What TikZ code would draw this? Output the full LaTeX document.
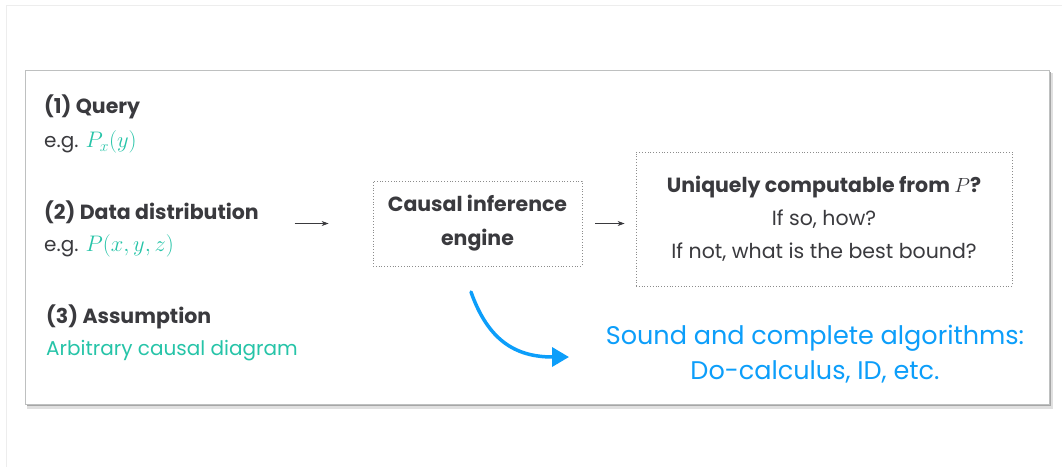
\RequirePackage{fix-cm}
\documentclass[tikz,border=0pt]{standalone}
\usepackage{fontspec}
\setmainfont{Poppins}
\newfontfamily\handfont{Poppins}
\usetikzlibrary{arrows.meta}
\definecolor{ink}{RGB}{58,58,62}
\definecolor{mint}{RGB}{38,196,168}
\definecolor{sky}{RGB}{12,158,250}
\definecolor{cardline}{RGB}{190,192,192}
\newcommand{\mathex}[1]{\textcolor{mint}{\fontsize{22.5}{24}\selectfont$#1$}}
\begin{document}
\begin{tikzpicture}[x=1pt,y=-1pt,
  every node/.style={inner sep=0pt, text=ink},
  head/.style={font=\fontsize{20.5}{24}\selectfont\bfseries, anchor=west},
  body/.style={font=\fontsize{20}{24}\selectfont, anchor=west},
  dotbox/.style={draw=black!45, dotted, line width=0.8pt, align=center},
  arr/.style={draw=ink, line width=0.7pt, -{Stealth[length=7pt,width=5pt]}},
  sketch/.style={draw=sky, line width=3.5pt, line cap=round, -{Triangle[length=17pt,width=19pt]}},
  hand/.style={font=\fontsize{25.5}{35}\selectfont\handfont, text=sky, align=center}]
\useasboundingbox (0,0) rectangle (1062,467);
% faint page edge
\draw[black!7, line width=0.8pt] (6,467) -- (6,5) -- (1062,5);
% card with drop shadow
\fill[black!12] (27,73) rectangle (1053,409);
\fill[black!35] (27,72) rectangle (1051,406);
\draw[cardline, line width=0.8pt, fill=white] (25,70) rectangle (1049,404);

% inputs
\node[head] (q) at (44,107) {(1) Query};
\node[body] (qe) at (44,142) {e.g. \mathex{P_x(y)}};
\node[head] (d) at (44,212) {(2) Data distribution};
\node[body] (de) at (44,246) {e.g. \mathex{P(x,y,z)}};
\node[head] (a) at (46,317) {(3) Assumption};
\node[body, text=mint] (ae) at (46,351) {Arbitrary causal diagram};

% engine and result
\node[dotbox, minimum width=209pt, minimum height=85pt,
      font=\fontsize{20.5}{34}\selectfont\bfseries] (eng) at (477.5,223.5)
      {Causal inference\\engine};
\node[dotbox, minimum width=376pt, minimum height=134pt,
      font=\fontsize{20.5}{33}\selectfont] (res) at (824,219)
      {{\bfseries Uniquely computable from $P$?}\\If so, how?\\If not, what is the best bound?};

\draw[arr] ([xshift=-78pt]eng.west) -- ([xshift=-44pt]eng.west);
\draw[arr] ([xshift=13pt]eng.east) -- ([xshift=-11pt]res.west |- eng.east);

% algorithms note
\coordinate (s0) at (471,292);
\coordinate (s1) at (569,357);
\draw[sketch] (s0) .. controls (488,340) and (515,357) .. (s1);
\node[hand] (alg) at (815,354) {Sound and complete algorithms:\\Do-calculus, ID, etc.};
\end{tikzpicture}
\end{document}
